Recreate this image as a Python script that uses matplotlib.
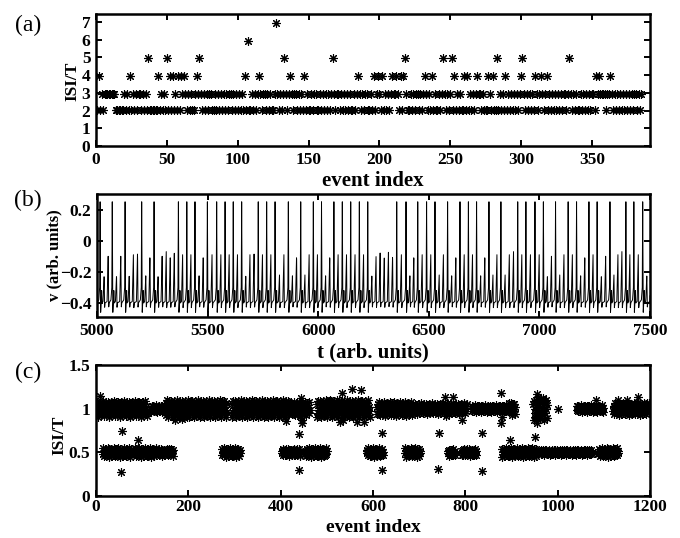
import matplotlib
matplotlib.use('Agg')
import matplotlib.pyplot as plt
import numpy as np

plt.rcParams['font.family'] = ['Liberation Serif', 'DejaVu Serif']
plt.rcParams['font.weight'] = 'bold'
plt.rcParams['axes.unicode_minus'] = True

# ---------------- (a) ISI/T for each event (rows 2 and 3)
isi_a_levels = ("2223233333" "3332222223" "2323232323" "3232323222" "2223232323"
                "2323232323" "3232323223" "2323232323" "3223232323" "2323323232"
                "3232323223" "2323232332" "3232232323" "2323232323" "3232323232"
                "2323322323" "2323232323" "3232323232" "2323232323" "3223232323"
                "2323232323" "3232323232" "2323233232" "3232323232" "2323232323"
                "3232323223" "2323232323" "3232222323" "2232323232" "3232323232"
                "2323232323" "3232323223" "2323232323" "3232323232" "2323232323"
                "3233333332" "3323232323" "2323232323" "32323")
# the higher multiples
isi_a_high = {1: 4, 23: 4, 36: 5, 43: 4, 49: 5, 51: 4, 53: 4, 57: 4, 59: 4, 61: 4,
              70: 4, 72: 5, 104: 4, 106: 6, 114: 4, 126: 7, 132: 5, 136: 4, 146: 4,
              166: 5, 184: 4, 195: 4, 198: 4, 201: 4, 208: 4, 211: 4, 214: 4, 216: 4,
              217: 5, 231: 4, 236: 4, 244: 5, 250: 5, 252: 4, 259: 4, 261: 4, 268: 4,
              276: 4, 279: 4, 282: 5, 288: 4, 299: 4, 300: 5, 309: 4, 313: 4, 317: 4,
              333: 5, 352: 4, 354: 4, 362: 4}
level_y = {2: 2.03, 3: 2.93, 4: 3.95, 5: 4.95, 6: 5.95, 7: 6.97}

# ---------------- (b) spike times of the voltage trace
spike_t = [5014, 5069, 5127, 5202, 5258, 5368, 5406, 5443, 5499, 5541, 5579, 5616,
           5654, 5729, 5767, 5805, 5865, 5921, 5978, 6015, 6071, 6109, 6147, 6186,
           6224, 6355, 6397, 6450, 6490, 6528, 6585, 6641, 6679, 6716, 6772, 6826,
           6902, 6939, 6980, 7018, 7073, 7130, 7168, 7224, 7261, 7319, 7391, 7427,
           7467]
period_T = 18.7
bump_low = -0.22     # first small oscillation after a spike
bump_high = -0.09    # oscillation just before the next spike

# ---------------- (c) ISI/T runs: (first event, last event, spread)
c_upper_runs = [(1, 110, 0.09), (120, 150, 0.04), (151, 283, 0.1), (294, 417, 0.1),
                (420, 463, 0.08), (478, 593, 0.1), (608, 687, 0.08), (691, 803, 0.06),
                (814, 890, 0.04), (893, 908, 0.07), (947, 977, 0.13), (1041, 1099, 0.04),
                (1120, 1200, 0.07)]
c_lower_runs = [(15, 52, 0.05), (56, 77, 0.05), (84, 131, 0.05), (135, 149, 0.04),
                (153, 167, 0.04), (273, 312, 0.05), (402, 442, 0.04), (453, 500, 0.05),
                (586, 622, 0.05), (669, 702, 0.05), (762, 778, 0.04), (792, 824, 0.04),
                (879, 955, 0.05), (962, 1074, 0.03), (1088, 1131, 0.05)]
c_stray_x = [9, 56, 55, 91, 113, 171, 186, 198, 410, 412, 440, 440, 445, 445, 446, 447,
             507, 528, 532, 535, 554, 565, 575, 581, 620, 620, 743, 740, 756, 758, 774,
             792, 837, 837, 877, 878, 880, 897, 950, 951, 955, 955, 1001, 1084, 1130,
             1150, 1175]
c_stray_y = [1.15, 0.74, 0.28, 0.64, 0.95, 0.87, 0.88, 0.9, 0.9, 0.86, 0.71, 0.30, 1.12,
             0.92, 0.87, 0.84, 1.1, 0.85, 1.18, 0.87, 1.22, 0.85, 1.21, 0.85, 0.72, 0.30,
             0.72, 0.31, 1.13, 0.92, 1.13, 0.87, 0.72, 0.29, 1.18, 0.84, 0.9, 0.64, 0.9,
             0.68, 0.84, 1.17, 1.0, 1.1, 1.1, 1.1, 1.13]
# estimated scatter profile within a run (in units of the run spread)
jitter = [0.1, -0.6, 0.9, -0.2, 0.4, -1.0, 0.7, -0.4, 0.0, 0.8, -0.8, 0.3,
          -0.1, 0.6, -0.7, 1.0, -0.3, 0.2, -0.9, 0.5, -0.5, 0.85, -0.15]

W, H = 680, 538
fig = plt.figure(figsize=(W / 100, H / 100), dpi=100)


def px_axes(left, top, right, bottom):
    return fig.add_axes([left / W, 1 - bottom / H, (right - left) / W, (bottom - top) / H])


def style(ax):
    for s in ax.spines.values():
        s.set_linewidth(1.8)
    ax.tick_params(direction='in', top=True, right=True, length=4.5, width=1.4,
                   labelsize=12.5, pad=4)


def ftext(x, y, s, **kw):
    fig.text(x / W, 1 - y / H, s, ha='center', va='center', **kw)


star = dict(ls='none', marker=(8, 2, 0), ms=6.2, mew=0.8, color='k')

# ---- (a)
ax1 = px_axes(96, 14, 650, 146)
ev_a = np.arange(len(isi_a_levels))
lev_a = [isi_a_high.get(i, int(c)) for i, c in enumerate(isi_a_levels)]
ax1.plot(ev_a + 1, [level_y[v] for v in lev_a], **star)
ax1.set_xlim(0, 391)
ax1.set_ylim(0, 7.45)
ax1.set_xticks(np.arange(0, 351, 50))
ax1.set_yticks(np.arange(0, 8))
style(ax1)

# ---- (b)
ax2 = px_axes(97, 194, 650, 317)
events = []
for k, s in enumerate(spike_t):
    events.append((s, 'spike', 0))
    if k + 1 < len(spike_t):
        gap = spike_t[k + 1] - s
        n = max(1, int(round(gap / period_T)))
        for j in range(1, n):
            h = bump_high if j == n - 1 else bump_low
            if n >= 4 and j > 1:
                h = bump_high + 0.02 * (j % 2)
            events.append((s + j * gap / n, 'bump', h))
t = spike_t[0] - period_T
while t > 4980:
    events.append((t, 'bump', bump_high))
    t -= period_T
t = spike_t[-1] + period_T
while t < 7520:
    events.append((t, 'bump', bump_low if t - spike_t[-1] < 25 else bump_high))
    t += period_T

kt, kv = [], []
for t0, kind, h in events:
    if kind == 'spike':
        kt += [t0 - 6, t0 - 2, t0, t0 + 2.5, t0 + 5, t0 + 7, t0 + 9]
        kv += [-0.38, -0.30, 0.25, -0.46, -0.40, -0.32, -0.40]
    else:
        kt += [t0 - 5, t0, t0 + 2, t0 + 4]
        kv += [-0.39, h, -0.43, -0.40]
order = np.argsort(kt)
t_grid = np.arange(5000, 7500.01, 0.5)
v = np.interp(t_grid, np.array(kt)[order], np.array(kv)[order])
ax2.plot(t_grid, v, color='k', lw=0.7)
ax2.set_xlim(5000, 7500)
ax2.set_ylim(-0.49, 0.3)
ax2.set_xticks(np.arange(5000, 7501, 500))
ax2.set_yticks([-0.4, -0.2, 0, 0.2])
ax2.set_yticklabels(['\u22120.4', '\u22120.2', '0', '0.2'])
style(ax2)

# ---- (c)
ax3 = px_axes(96, 365, 650, 496)


def run_points(runs, level):
    xs, ys = [], []
    for a, b, spread in runs:
        for i in range(a, b + 1):
            xs.append(i)
            ys.append(level + spread * jitter[i % len(jitter)])
    return xs, ys


ux, uy = run_points(c_upper_runs, 1.0)
lx, ly = run_points(c_lower_runs, 0.5)
ax3.plot(ux, uy, **star)
ax3.plot(lx, ly, **star)
ax3.plot(c_stray_x, c_stray_y, **star)
ax3.set_xlim(0, 1200)
ax3.set_ylim(0, 1.5)
ax3.set_xticks(np.arange(0, 1201, 200))
ax3.set_yticks([0, 0.5, 1, 1.5])
ax3.set_yticklabels(['0', '0.5', '1', '1.5'])
style(ax3)
ax3.tick_params(axis='x', pad=2.5)

# labels
ftext(28, 25, '(a)', fontsize=17, fontweight='normal')
ftext(28, 200, '(b)', fontsize=17, fontweight='normal')
ftext(28, 372, '(c)', fontsize=17, fontweight='normal')
ftext(72, 81, 'ISI/T', fontsize=12.5, rotation=90)
ftext(373, 181, 'event index', fontsize=15)
ftext(54, 255, 'v (arb. units)', fontsize=12, rotation=90)
ftext(373, 352, 't (arb. units)', fontsize=15)
ftext(59, 435, 'ISI/T', fontsize=12.5, rotation=90)
ftext(373, 528, 'event index', fontsize=14)

fig.savefig('out.png', dpi=100)
